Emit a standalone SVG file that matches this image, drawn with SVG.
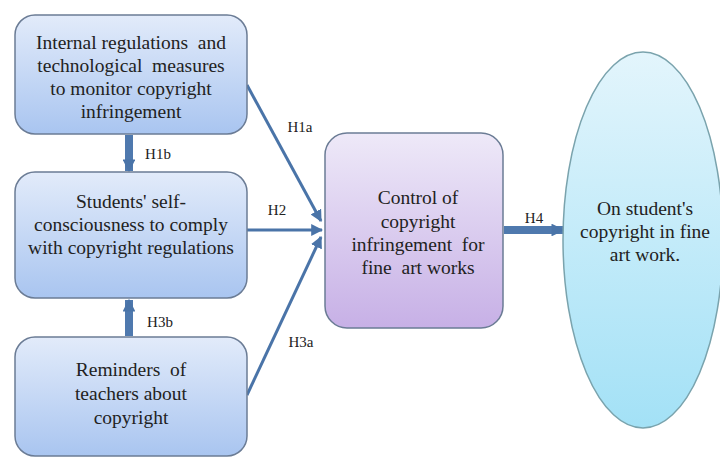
<svg xmlns="http://www.w3.org/2000/svg" width="720" height="460" viewBox="0 0 720 460">
<defs>
<linearGradient id="gBlue" x1="0" y1="0" x2="0" y2="1">
<stop offset="0" stop-color="#e2ebfa"/>
<stop offset="1" stop-color="#a9c5f0"/>
</linearGradient>
<linearGradient id="gPurple" x1="0" y1="0" x2="0" y2="1">
<stop offset="0" stop-color="#eee9f8"/>
<stop offset="1" stop-color="#c7b0e6"/>
</linearGradient>
<linearGradient id="gCyan" x1="0" y1="0" x2="0" y2="1">
<stop offset="0" stop-color="#e3f5fc"/>
<stop offset="1" stop-color="#a3e1f6"/>
</linearGradient>
<marker id="ah" viewBox="0 0 10 10" refX="9" refY="5" markerWidth="4" markerHeight="4" orient="auto" markerUnits="strokeWidth">
<path d="M0,0 L10,5 L0,10 z" fill="#4a74a8"/>
</marker>
<marker id="ahThick" viewBox="0 0 10 10" refX="9" refY="5" markerWidth="1.6" markerHeight="1.6" orient="auto" markerUnits="strokeWidth">
<path d="M0,0 L10,5 L0,10 z" fill="#4a74a8"/>
</marker>
</defs>
<style>
.box{stroke:#6b7c95;stroke-width:1.5}
.t{font-family:'Liberation Serif','DejaVu Serif',serif;font-size:19.5px;fill:#222;text-anchor:middle;white-space:pre}
.lbl{font-family:'Liberation Serif','DejaVu Serif',serif;font-size:15px;fill:#222;text-anchor:middle}
.ln{stroke:#4a74a8;stroke-width:3;fill:none}
.thick{stroke:#4f79ae;stroke-width:8;fill:none}
</style>
<rect width="720" height="460" fill="#ffffff"/>
<g id="connectors">
<line class="ln" x1="247" y1="85" x2="321" y2="221" marker-end="url(#ah)"/>
<line class="ln" x1="247" y1="230" x2="322" y2="230" marker-end="url(#ah)"/>
<line class="ln" x1="247" y1="395" x2="321" y2="237" marker-end="url(#ah)"/>
<line class="thick" x1="129" y1="135" x2="129" y2="171" marker-end="url(#ahThick)"/>
<line class="thick" x1="129" y1="336" x2="129" y2="300" marker-end="url(#ahThick)"/>
<line class="thick" x1="504" y1="230" x2="563" y2="230" stroke-width="6" marker-end="url(#ahThick)"/>
<text class="lbl" x="300" y="132">H1a</text>
<text class="lbl" x="277" y="215">H2</text>
<text class="lbl" x="301" y="347">H3a</text>
<text class="lbl" x="158" y="159">H1b</text>
<text class="lbl" x="160" y="327">H3b</text>
<text class="lbl" x="534" y="223">H4</text>
</g>
<g id="node-internal">
<rect class="box" x="15" y="15" width="232" height="119" rx="20" fill="url(#gBlue)"/>
<text class="t" x="131" y="49">Internal regulations  and</text>
<text class="t" x="131" y="72">technological  measures</text>
<text class="t" x="131" y="95">to monitor copyright</text>
<text class="t" x="131" y="118">infringement</text>
</g>
<g id="node-students">
<rect class="box" x="15" y="172" width="232" height="126" rx="20" fill="url(#gBlue)"/>
<text class="t" x="131" y="208">Students' self-</text>
<text class="t" x="131" y="231">consciousness to comply</text>
<text class="t" x="131" y="254">with copyright regulations</text>
</g>
<g id="node-reminders">
<rect class="box" x="15" y="337" width="232" height="119" rx="20" fill="url(#gBlue)"/>
<text class="t" x="131" y="376">Reminders  of</text>
<text class="t" x="131" y="400">teachers about</text>
<text class="t" x="131" y="424">copyright</text>
</g>
<g id="node-control">
<rect class="box" x="325" y="133" width="178" height="195" rx="22" fill="url(#gPurple)"/>
<text class="t" x="418" y="204">Control of</text>
<text class="t" x="418" y="228">copyright</text>
<text class="t" x="418" y="251">infringement  for</text>
<text class="t" x="418" y="274">fine  art works</text>
</g>
<g id="node-outcome">
<ellipse cx="643" cy="240" rx="80" ry="188" fill="url(#gCyan)" stroke="#7aa3ad" stroke-width="1.5"/>
<text class="t" x="645" y="215">On student's</text>
<text class="t" x="645" y="238">copyright in fine</text>
<text class="t" x="645" y="261">art work.</text>
</g>
</svg>
